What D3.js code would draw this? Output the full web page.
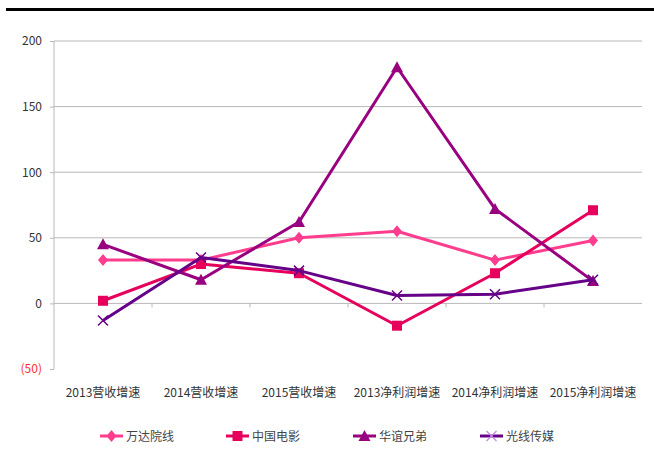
<!DOCTYPE html>
<html>
<head>
<meta charset="utf-8">
<script src="https://cdn.jsdelivr.net/npm/d3@7"></script>
<style>
  body { margin: 0; background: #fff; }
  text { font-family: "Noto Sans CJK SC", "Liberation Sans", sans-serif; }
</style>
</head>
<body>
<div class="chart"></div>
<script>
// categories and series
var categories = ["2013营收增速", "2014营收增速", "2015营收增速", "2013净利润增速", "2014净利润增速", "2015净利润增速"];
var wanda = [33, 33, 50, 55, 33, 48];
var zhongying = [2, 30, 23, -17, 23, 71];
var huayi = [45, 18, 62, 180, 72, 17];
var guangxian = [-13, 35, 25, 6, 7, 18];
var yTicks = [-50, 0, 50, 100, 150, 200];

var seriesNames = ["万达院线", "中国电影", "华谊兄弟", "光线传媒"];
var seriesColors = ["#FF3D8F", "#E6005C", "#990080", "#660088"];
var seriesShapes = ["diamond", "square", "triangle", "cross"];
var seriesData = [wanda, zhongying, huayi, guangxian];

var svgWidth = 654, svgHeight = 453;
var margin = { top: 41, right: 12, bottom: 84, left: 54 };
var chartWidth = svgWidth - margin.left - margin.right;
var chartHeight = svgHeight - margin.top - margin.bottom;

var svg = d3.select(".chart").append("svg")
    .attr("width", svgWidth)
    .attr("height", svgHeight);

// black bar on top
svg.append("rect")
    .attr("x", 6).attr("y", 8)
    .attr("width", svgWidth - 6).attr("height", 3)
    .attr("fill", "#000");

var chartGroup = svg.append("g")
    .attr("transform", `translate(${margin.left}, ${margin.top})`);

var xScale = d3.scaleBand()
    .domain(categories)
    .range([0, chartWidth]);

var yScale = d3.scaleLinear()
    .domain([-50, 200])
    .range([chartHeight, 0]);

// gridlines
chartGroup.append("g")
    .selectAll("line")
    .data(yTicks.filter(d => d > 0))
    .enter()
    .append("line")
    .attr("x1", 0).attr("x2", chartWidth)
    .attr("y1", d => yScale(d)).attr("y2", d => yScale(d))
    .attr("stroke", "#b8b8b8").attr("stroke-width", 1);

// y axis
var yAxis = d3.axisLeft(yScale)
    .tickValues(yTicks)
    .tickSize(4)
    .tickPadding(8)
    .tickFormat(d => d < 0 ? "(" + Math.abs(d) + ")" : d);

var yG = chartGroup.append("g").call(yAxis);
yG.select(".domain").attr("stroke", "#b8b8b8").attr("d", `M0,${chartHeight}V0`);
yG.selectAll(".tick line").attr("stroke", "#b8b8b8");
yG.selectAll(".tick text")
    .attr("font-size", 12)
    .attr("font-family", "'Liberation Sans Narrow', 'Noto Sans CJK SC', sans-serif")
    .attr("fill", d => d < 0 ? "#FF3030" : "#333");

// x axis sits on the zero line
var xAxis = d3.axisBottom(xScale).tickSize(0).tickPadding(0);
var xG = chartGroup.append("g")
    .attr("transform", `translate(0, ${yScale(0)})`)
    .call(xAxis);
xG.select(".domain").attr("stroke", "#b8b8b8").attr("d", `M0,0H${chartWidth}`);
xG.selectAll(".tick text").remove();

// small ticks between categories
chartGroup.append("g")
    .selectAll("line")
    .data(categories.slice(1))
    .enter()
    .append("line")
    .attr("x1", d => xScale(d)).attr("x2", d => xScale(d))
    .attr("y1", yScale(0)).attr("y2", yScale(0) + 4)
    .attr("stroke", "#b8b8b8");

// category labels under the plot
chartGroup.append("g")
    .selectAll("text")
    .data(categories)
    .enter()
    .append("text")
    .attr("x", d => xScale(d) + xScale.bandwidth() / 2)
    .attr("y", chartHeight + 28)
    .attr("text-anchor", "middle")
    .attr("font-size", 12)
    .attr("fill", "#333")
    .text(d => d);

function markerPath(shape) {
    if (shape === "diamond") return "M0,-6L5,0L0,6L-5,0Z";
    if (shape === "square") return "M-5,-5H5V5H-5Z";
    if (shape === "triangle") return "M0,-6L6,5H-6Z";
    return "M-5,-5L5,5M5,-5L-5,5";
}

var line = d3.line()
    .x((d, i) => xScale(categories[i]) + xScale.bandwidth() / 2)
    .y(d => yScale(d));

seriesData.forEach(function(values, s) {
    var g = chartGroup.append("g");
    g.append("path")
        .datum(values)
        .attr("d", line)
        .attr("fill", "none")
        .attr("stroke", seriesColors[s])
        .attr("stroke-width", 3)
        .attr("stroke-linejoin", "round");

    var shape = seriesShapes[s];
    g.selectAll("path.marker")
        .data(values)
        .enter()
        .append("path")
        .attr("class", "marker")
        .attr("transform", (d, i) => `translate(${xScale(categories[i]) + xScale.bandwidth() / 2}, ${yScale(d)})`)
        .attr("d", markerPath(shape))
        .attr("fill", shape === "cross" ? "none" : seriesColors[s])
        .attr("stroke", seriesColors[s])
        .attr("stroke-width", shape === "cross" ? 1.5 : 0);
});

// legend
var legendX = [100, 226, 353, 480];
var legend = svg.append("g").attr("transform", "translate(0, 436)");
seriesNames.forEach(function(name, s) {
    var item = legend.append("g").attr("transform", `translate(${legendX[s]}, 0)`);
    item.append("line")
        .attr("x1", 0).attr("x2", 23)
        .attr("y1", 0).attr("y2", 0)
        .attr("stroke", seriesColors[s])
        .attr("stroke-width", 3);
    var shape = seriesShapes[s];
    item.append("path")
        .attr("transform", "translate(11.5, 0)")
        .attr("d", markerPath(shape))
        .attr("fill", shape === "cross" ? "none" : seriesColors[s])
        .attr("stroke", shape === "cross" ? "#C58BE0" : seriesColors[s])
        .attr("stroke-width", shape === "cross" ? 1.2 : 0);
    item.append("text")
        .attr("x", 26).attr("y", 4.5)
        .attr("font-size", 12)
        .attr("fill", "#444")
        .text(name);
});
</script>
</body>
</html>
